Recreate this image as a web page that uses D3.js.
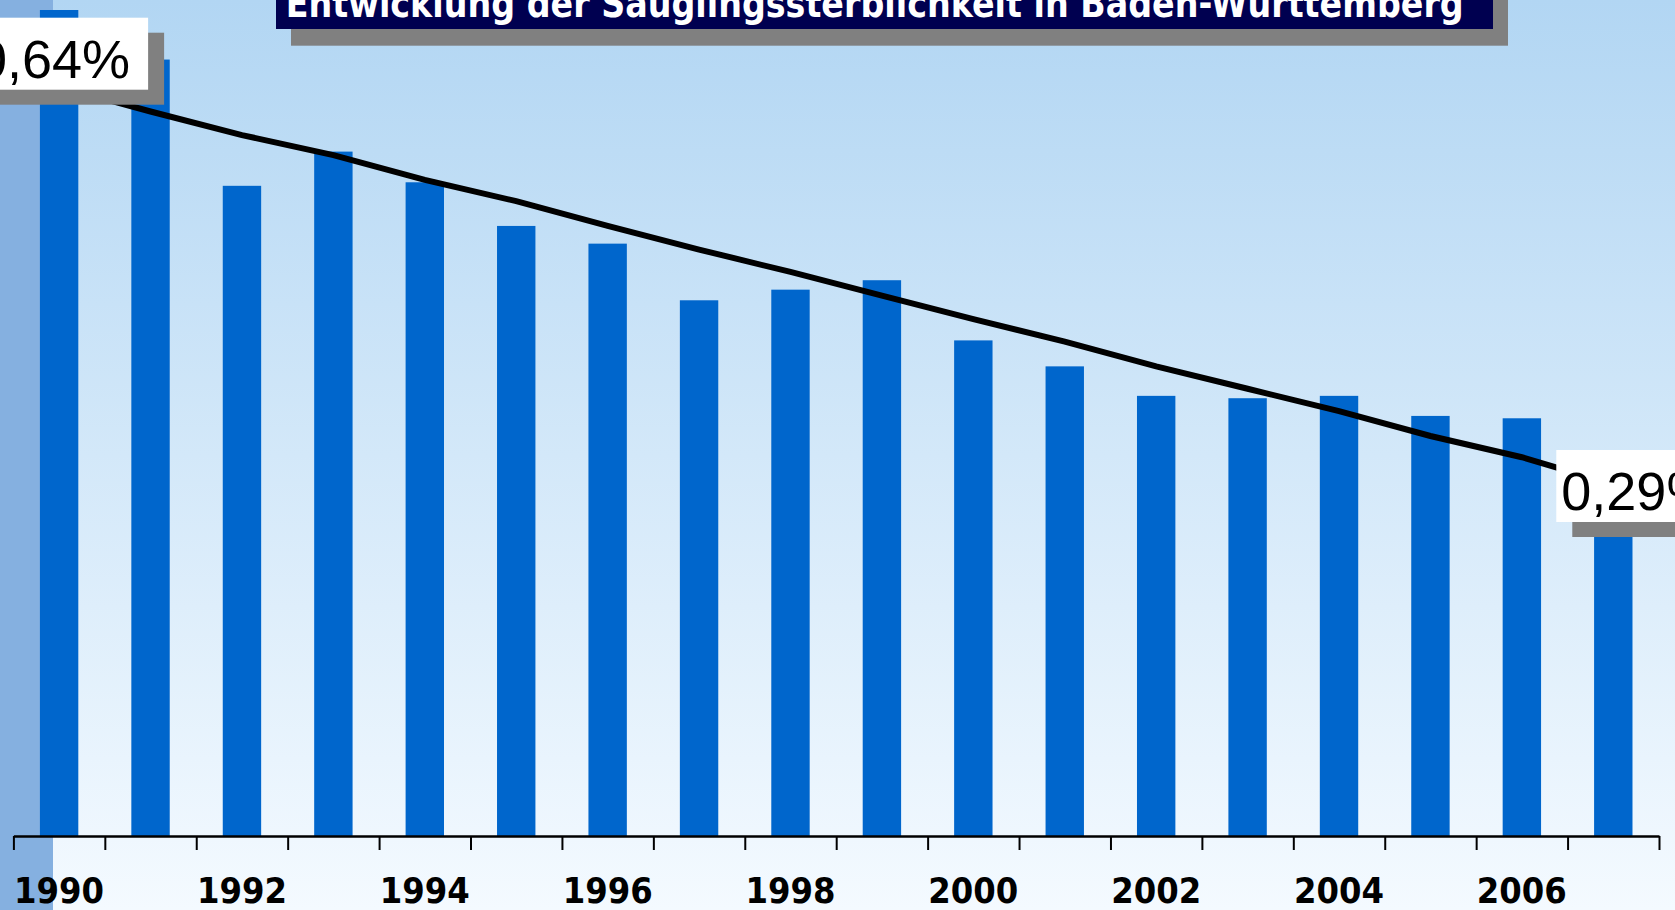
<!DOCTYPE html>
<html>
<head>
<meta charset="utf-8">
<script src="https://cdn.jsdelivr.net/npm/d3@7"></script>
<style>
  html, body { margin: 0; padding: 0; background: #ffffff; }
  svg { display: block; }
</style>
</head>
<body>
<div id="chart"></div>
<script>
// ---------- data ----------
const years = [1990, 1991, 1992, 1993, 1994, 1995, 1996, 1997, 1998, 1999,
               2000, 2001, 2002, 2003, 2004, 2005, 2006, 2007];
// infant mortality (% of live births)
const rates = [0.700, 0.658, 0.551, 0.580, 0.554, 0.517, 0.502, 0.454, 0.463, 0.471,
               0.420, 0.398, 0.373, 0.371, 0.373, 0.356, 0.354, 0.300];
// trend line values
const trend = [0.635, 0.614, 0.594, 0.577, 0.556, 0.538, 0.517, 0.497, 0.478, 0.458,
               0.438, 0.419, 0.398, 0.379, 0.360, 0.339, 0.321, 0.298];
const tickLabelYears = [1990, 1992, 1994, 1996, 1998, 2000, 2002, 2004, 2006];
const startLabel = "0,64%";
const endLabel = "0,29%";
const title = "Entwicklung der Säuglingssterblichkeit in Baden-Württemberg";

// ---------- layout ----------
const W = 1675, H = 910;
const left = 13.4, right = 1659, baseY = 836, topY = 10;

const svg = d3.select("#chart").append("svg")
  .attr("width", W).attr("height", H);

const defs = svg.append("defs");
const grad = defs.append("linearGradient")
  .attr("id", "bg").attr("x1", 0).attr("y1", 0).attr("x2", 0).attr("y2", 1);
grad.append("stop").attr("offset", "0%").attr("stop-color", "#b2d6f3");
grad.append("stop").attr("offset", "100%").attr("stop-color", "#f4faff");

svg.append("rect").attr("width", W).attr("height", H).attr("fill", "url(#bg)");
svg.append("rect").attr("x", 0).attr("y", 0).attr("width", 53).attr("height", H)
  .attr("fill", "#85b0e0");

// ---------- scales ----------
const x = d3.scaleBand().domain(years).range([left, right])
  .paddingInner(0.58).paddingOuter(0.29);
const xEdge = d3.scaleLinear().domain([years[0], years[years.length - 1] + 1]).range([left, right]);
const y = d3.scaleLinear().domain([0, 0.7]).range([baseY, topY]);

// ---------- bars ----------
svg.append("g").selectAll("rect").data(years).join("rect")
  .attr("x", d => x(d))
  .attr("width", x.bandwidth())
  .attr("y", (d, i) => y(rates[i]))
  .attr("height", (d, i) => baseY - y(rates[i]))
  .attr("fill", "#0066cc");

// ---------- axis ----------
const edgeTicks = years.concat([years[years.length - 1] + 1]);
const axis = svg.append("g")
  .attr("transform", `translate(0,${baseY})`)
  .call(d3.axisBottom(xEdge).tickValues(edgeTicks).tickSize(14).tickSizeOuter(0).tickFormat(""));
axis.select(".domain").attr("stroke", "#000").attr("stroke-width", 2.5);
axis.selectAll(".tick line").attr("stroke", "#000").attr("stroke-width", 2);

svg.append("g").selectAll("text").data(tickLabelYears).join("text")
  .attr("x", d => x(d) + x.bandwidth() / 2)
  .attr("y", 903)
  .attr("text-anchor", "middle")
  .attr("font-family", "'DejaVu Sans Condensed', 'DejaVu Sans', sans-serif")
  .attr("font-weight", "bold")
  .attr("font-size", 36)
  .attr("textLength", 90)
  .attr("lengthAdjust", "spacingAndGlyphs")
  .attr("fill", "#000")
  .text(d => d);

// ---------- trend line ----------
const line = d3.line()
  .x((d, i) => x(years[i]) + x.bandwidth() / 2)
  .y(d => y(d));
svg.append("path").datum(trend)
  .attr("d", line)
  .attr("fill", "none")
  .attr("stroke", "#000")
  .attr("stroke-width", 6)
  .attr("stroke-linejoin", "miter");

// ---------- value labels ----------
function valueLabel(boxX, boxY, txt, textX, anchor) {
  const g = svg.append("g");
  const bw = 188, bh = 72;
  g.append("rect").attr("x", boxX + 16).attr("y", boxY + 15).attr("width", bw).attr("height", bh)
    .attr("fill", "#808080");
  g.append("rect").attr("x", boxX).attr("y", boxY).attr("width", bw).attr("height", bh)
    .attr("fill", "#ffffff");
  g.append("text").attr("x", textX).attr("y", boxY + 60)
    .attr("text-anchor", anchor)
    .attr("font-family", "'Liberation Sans', Arial, sans-serif")
    .attr("font-size", 54)
    .attr("fill", "#000")
    .text(txt);
}
const c0 = x(years[0]) + x.bandwidth() / 2;
const c1 = x(years[years.length - 1]) + x.bandwidth() / 2;
valueLabel(c0 + 89 - 188, 17.7, startLabel, c0 + 71, "end");
valueLabel(c1 - 57, 450, endLabel, c1 - 52, "start");

// ---------- title ----------
svg.append("rect").attr("x", 291).attr("y", -30).attr("width", 1217).attr("height", 75.7)
  .attr("fill", "#808080");
svg.append("rect").attr("x", 276).attr("y", -30).attr("width", 1217).attr("height", 59)
  .attr("fill", "#000050");
svg.append("text").attr("x", 285.7).attr("y", 16.7)
  .attr("font-family", "'DejaVu Sans', sans-serif")
  .attr("font-weight", "bold")
  .attr("font-size", 39)
  .attr("textLength", 1178)
  .attr("lengthAdjust", "spacingAndGlyphs")
  .attr("fill", "#ffffff")
  .text(title);
</script>
</body>
</html>
